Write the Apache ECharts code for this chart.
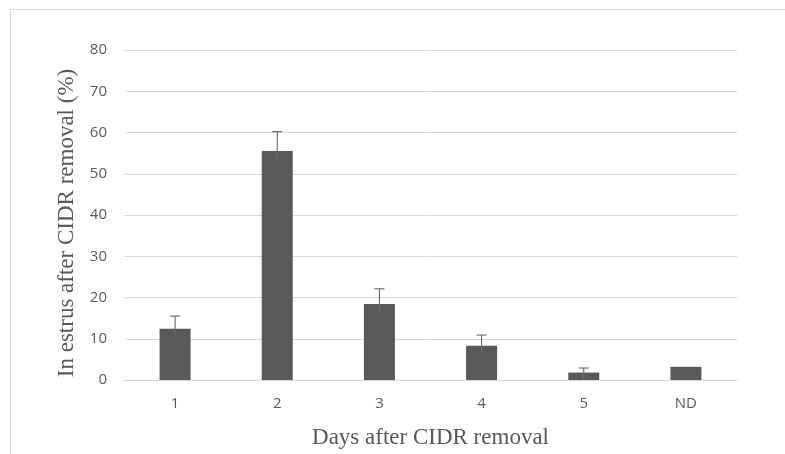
<!DOCTYPE html>
<html>
<head>
<meta charset="utf-8">
<script src="https://cdn.jsdelivr.net/npm/echarts@6/dist/echarts.min.js"></script>
<style>
  html, body { margin: 0; padding: 0; background: #fff; }
  #chart { width: 785px; height: 454px; }
</style>
</head>
<body>
<div id="chart"></div>
<script>
// data
var days = ['1', '2', '3', '4', '5', 'ND'];
var estrus = [12.4, 55.5, 18.4, 8.3, 1.8, 3.2];
var errTop = [15.5, 60.2, 22.1, 10.9, 2.9, null];
var yTicks = [0, 10, 20, 30, 40, 50, 60, 70, 80];

var chart = echarts.init(document.getElementById('chart'));

// error bars: only the upper whisker, with a cap
var errData = [];
for (var i = 0; i < days.length; i++) {
    if (errTop[i] != null) errData.push([i, estrus[i], errTop[i]]);
}

var option = {
    animation: false,
    backgroundColor: '#fff',
    graphic: [{
        type: 'rect',
        shape: { x: 10.5, y: 9.5, width: 800, height: 500 },
        style: { fill: 'none', stroke: '#d9d9d9', lineWidth: 1 },
        silent: true
    }],
    grid: { left: 124, right: 48, top: 50, bottom: 72 },
    xAxis: {
        type: 'category',
        data: days,
        axisLine: { show: true, lineStyle: { color: '#d9d9d9' } },
        axisTick: { show: false },
        axisLabel: { color: '#595959', fontFamily: 'Open Sans', fontSize: 15, margin: 16 },
        name: 'Days after CIDR removal',
        nameLocation: 'middle',
        nameGap: 46,
        nameTextStyle: { fontFamily: 'Liberation Serif', fontSize: 23, color: '#595959' }
    },
    yAxis: {
        type: 'value',
        min: yTicks[0],
        max: yTicks[yTicks.length - 1],
        interval: 10,
        axisLine: { show: false },
        axisTick: { show: false },
        splitLine: { lineStyle: { color: '#d9d9d9' } },
        axisLabel: { color: '#595959', fontFamily: 'Open Sans', fontSize: 15, margin: 17 },
        name: 'In estrus after CIDR removal (%)',
        nameLocation: 'middle',
        nameGap: 46,
        nameTextStyle: { fontFamily: 'Liberation Serif', fontSize: 23, color: '#595959', padding: [0, 16, 0, 0] }
    },
    series: [{
        type: 'bar',
        data: estrus,
        barWidth: 31,
        itemStyle: { color: '#595959' }
    }, {
        type: 'custom',
        data: errData,
        z: 5,
        renderItem: function (params, api) {
            var base = api.coord([api.value(0), api.value(1)]);
            var top = api.coord([api.value(0), api.value(2)]);
            var zero = api.coord([api.value(0), 0]);
            var inner = Math.min(base[1] + 8, zero[1] - 1);
            var half = 5;
            var st = { stroke: '#595959', lineWidth: 1 };
            return {
                type: 'group',
                children: [
                    { type: 'line', shape: { x1: top[0], y1: inner, x2: top[0], y2: base[1] }, style: { stroke: '#707070', lineWidth: 1 } },
                    { type: 'line', shape: { x1: top[0], y1: base[1], x2: top[0], y2: top[1] }, style: st },
                    { type: 'line', shape: { x1: top[0] - half, y1: top[1], x2: top[0] + half, y2: top[1] }, style: st }
                ]
            };
        }
    }]
};

chart.setOption(option);
</script>
</body>
</html>
